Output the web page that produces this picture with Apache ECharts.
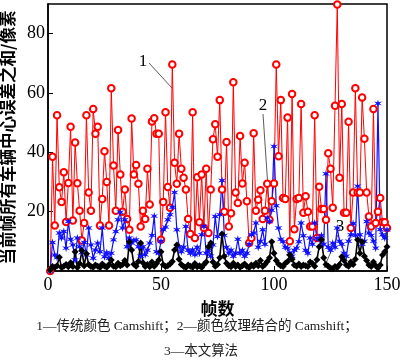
<!DOCTYPE html>
<html><head><meta charset="utf-8">
<script src="https://cdn.jsdelivr.net/npm/echarts@6/dist/echarts.min.js"></script>
<style>html,body{margin:0;padding:0;background:#fff}#c{width:400px;height:363px}</style>
</head><body><div id="c"></div>
<script>
// x axis ticks: 0, 50, 100, 150 ; y axis ticks: 20..80
const xTickStep = 50;
const yTickStep = 20;
// frame numbers start at 1
const firstFrame = 1;

// 1 — 传统颜色 Camshift
const red = [
 0,38.5,15.3,52.5,28.2,23.3,33.3,16.5,29.7,48.6,
 17,43.3,29.6,20.3,10.3,16.2,52.5,26.5,20.3,54.6,
 46.3,48.6,15.3,24.3,40.4,30,15.3,61.6,35.6,20.3,
 47.5,32.5,20,27.5,17.5,13.9,51.4,32.5,35.7,29.4,
 15,20.3,17.5,34.5,22.4,50.4,51.5,46.3,46.3,10.5,
 23.3,53.5,28.3,21.3,69.6,36.5,29.4,46.3,34.5,31.4,
 27.5,17.5,12.5,53.5,11.1,31.6,16.4,32.5,14.5,34.5,
 12.8,27.5,44.4,49.5,38.5,57.6,27.5,20,43.5,15,
 19.5,63.6,26.5,22.9,45.5,29.5,36.5,23.5,9.4,11.1,
 46.4,20.3,24,27.2,17.5,20.3,29.4,17.3,23.5,29.5,
 69.6,38.7,57.6,24.6,24.3,51.7,10,59.7,14.1,24.3,
 24.6,56.3,19.6,25.2,20,15,15,52.5,11.1,28.4,
 20.9,20.9,17.3,39.7,34.5,21.3,55.7,89.8,31.4,56.3,
 19.6,19.6,50.3,14.5,26.5,61.6,26.5,26.5,58.5,44.6,
 26.5,18.4,15,54.6,16.2,20,24.6,16.5,16.4,14.5
];
// 2 — 颜色纹理结合的 Camshift
const blue = [
 0,9.6,5.4,4.5,12.8,11.1,13.3,7.7,16.7,10.7,
 8.8,3.7,11.1,8.2,6.2,9.6,5.4,14.5,8.8,4.3,
 7.1,9.4,6.5,14.5,4.8,6.2,4.3,6,10.5,13.3,
 17.3,19.8,14.5,17.3,8.2,11.1,9.4,10.3,10.5,8.2,
 5,8.2,5.5,7,9.4,12,18.5,6.5,6,10,
 13.9,14.8,17.3,19,21.5,26.5,13.9,8.2,6.5,8,
 15,7,6,7.1,5.5,8,6,12.2,15,6,
 7,5,8.8,18.4,11.6,19,30.5,12,8,6,
 7,5,6,10.7,6,7,5,6,9,12.2,
 12.8,16.2,8,10,13.9,9,17.9,16.7,20.5,42,
 22,14.5,10.7,9.9,8,7.7,6,5,7,7.7,
 9.9,16.2,11.9,7,6,11.1,9,16.2,11,10.7,
 12,9,32.8,8,7,9.4,8,14.5,10,9,
 6,5,10,12.2,16,12,28.6,12.2,9,10,
 16.7,12.8,12,10,7.7,56.5,14,12.2,11.1,13.9
];
// 3 — 本文算法
const black = [
 0.3,1.5,1.2,1.8,4.6,1.2,1.6,2.2,1.4,2.8,
 1.5,6.5,1.2,2.5,6.9,1.8,5.8,2.2,1.5,1.3,
 2.0,1.6,1.2,2.4,1.7,1.3,2.2,3.7,1.6,1.4,
 2.6,1.8,2.2,3.5,2.0,9.9,7.1,2.3,1.6,3.2,
 9.4,2.8,1.5,2.2,1.4,3.0,1.6,2.5,3.7,6.5,
 2.1,1.5,1.8,2.4,3.2,7.1,8.8,4.0,2.2,1.5,
 1.2,2.0,1.6,1.3,2.5,1.4,1.8,1.2,2.2,3.0,
 8.2,9.4,3.0,1.6,2.2,4.5,12.5,5.0,2.6,1.8,
 1.4,2.6,1.5,2.0,1.3,1.8,2.4,1.5,1.2,2.0,
 1.6,2.6,1.8,3.5,1.5,2.2,3.2,4.5,9.9,6.0,
 3.5,2.4,1.8,1.5,2.6,3.2,5.4,4.0,2.0,1.6,
 2.4,1.5,2.0,1.8,1.5,3.0,2.5,1.6,3.8,8.2,
 10.5,4.5,2.2,1.6,1.0,0.8,1.5,1.2,2.2,4.8,
 3.5,2.0,1.6,3.0,2.2,4.0,10.5,6.0,9.9,5.0,
 3.5,2.0,1.5,3.0,1.8,1.0,2.0,5.4,6.5,8.2
];
const xName = '帧数';
const yName = '当前帧所有车辆中心误差之和/像素';
const caption1 = '1—传统颜色 Camshift；2—颜色纹理结合的 Camshift；';
const caption2 = '3—本文算法';
const labels = ['1', '2', '3'];

const pairs = arr => arr.map((v, i) => [i + firstFrame, v]);
const serif = '"Liberation Serif", serif';
const mixed = '"Liberation Serif", "Noto Sans CJK SC", serif';
const starPath = 'path://M0,-10 L1.75,-3.03 L8.66,-5 L3.5,0 L8.66,5 L1.75,3.03 L0,10 L-1.75,3.03 L-8.66,5 L-3.5,0 L-8.66,-5 L-1.75,-3.03 Z';

const chart = echarts.init(document.getElementById('c'));
chart.setOption({
  animation: false,
  backgroundColor: '#fff',
  grid: {left: 48, right: 13, top: 4, bottom: 92, show: true, borderColor: '#000', borderWidth: 1.5,
         containLabel: false, outerBoundsMode: 'none'},
  xAxis: {
    type: 'value', min: 0, max: 150, interval: xTickStep,
    name: xName, nameLocation: 'middle', nameGap: 29,
    nameTextStyle: {fontFamily: 'Noto Sans CJK SC', fontSize: 17, fontWeight: 'bold', color: '#000'},
    axisLine: {show: true, onZero: false, lineStyle: {color: '#000', width: 1.5}},
    axisTick: {show: true, inside: true, length: 5, lineStyle: {color: '#000'}},
    axisLabel: {fontFamily: serif, fontSize: 18, color: '#000', margin: 5},
    splitLine: {show: false}
  },
  yAxis: {
    type: 'value', min: 0, max: 90, interval: yTickStep,
    name: yName, nameLocation: 'middle', nameRotate: 90, nameGap: 31,
    nameTextStyle: {fontFamily: 'Noto Sans CJK SC', fontSize: 16.5, fontWeight: 'bold', color: '#000'},
    axisLine: {show: true, lineStyle: {color: '#000', width: 1.5}},
    axisTick: {show: true, inside: true, length: 5, lineStyle: {color: '#000'}},
    axisLabel: {fontFamily: serif, fontSize: 18, color: '#000', margin: 3, showMinLabel: false, showMaxLabel: false},
    splitLine: {show: false}
  },
  series: [
    {type: 'line', data: pairs(red), symbol: 'emptyCircle', symbolSize: 6.5,
     itemStyle: {color: '#ff0000', borderWidth: 0.9}, lineStyle: {color: '#ff0000', width: 1}},
    {type: 'line', data: pairs(blue), symbol: starPath, symbolSize: 8,
     itemStyle: {color: '#1010ff'}, lineStyle: {color: '#1010ff', width: 1.2}},
    {type: 'line', data: pairs(black), symbol: 'diamond', symbolSize: 7,
     itemStyle: {color: '#000'}, lineStyle: {color: '#000', width: 1.6}}
  ],
  graphic: [
    {type: 'text', style: {text: labels[0], x: 143, y: 62, font: '17px ' + mixed, fill: '#000', align: 'center', verticalAlign: 'middle'}},
    {type: 'line', shape: {x1: 149, y1: 63, x2: 172, y2: 88}, style: {stroke: '#333', lineWidth: 0.8}},
    {type: 'text', style: {text: labels[1], x: 263, y: 106, font: '17px ' + mixed, fill: '#000', align: 'center', verticalAlign: 'middle'}},
    {type: 'line', shape: {x1: 263, y1: 114, x2: 270, y2: 218}, style: {stroke: '#333', lineWidth: 0.8}},
    {type: 'text', style: {text: labels[2], x: 340, y: 227, font: '17px ' + mixed, fill: '#000', align: 'center', verticalAlign: 'middle'}},
    {type: 'line', shape: {x1: 338, y1: 235, x2: 324, y2: 268}, style: {stroke: '#333', lineWidth: 0.8}},
    {type: 'text', style: {text: caption1, x: 197, y: 326, font: '13.5px ' + mixed, fill: '#222', align: 'center', verticalAlign: 'middle'}},
    {type: 'text', style: {text: caption2, x: 201, y: 351, font: '13.5px ' + mixed, fill: '#222', align: 'center', verticalAlign: 'middle'}}
  ]
});
</script>
</body></html>
